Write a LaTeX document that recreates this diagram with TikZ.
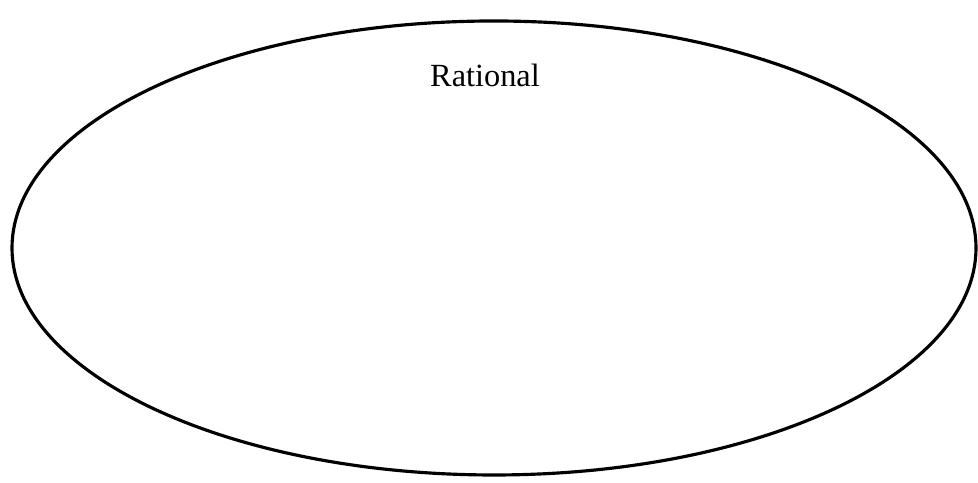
\documentclass[tikz,border=0pt]{standalone}
\usepackage{fontspec}
\setmainfont{Liberation Serif}
\usetikzlibrary{shapes.geometric}
\begin{document}
\begin{tikzpicture}[thick]
    \useasboundingbox (0,0) rectangle (9.78,4.83);
    \node (rational) [draw, ellipse, line width=0.9pt, minimum width=9.64cm, minimum height=4.54cm, inner sep=0pt] at (4.94,2.35) {};
    \node (rlabel) [font=\fontsize{9.2}{11}\selectfont] at (4.85,4.08) {Rational};
\end{tikzpicture}
\end{document}
